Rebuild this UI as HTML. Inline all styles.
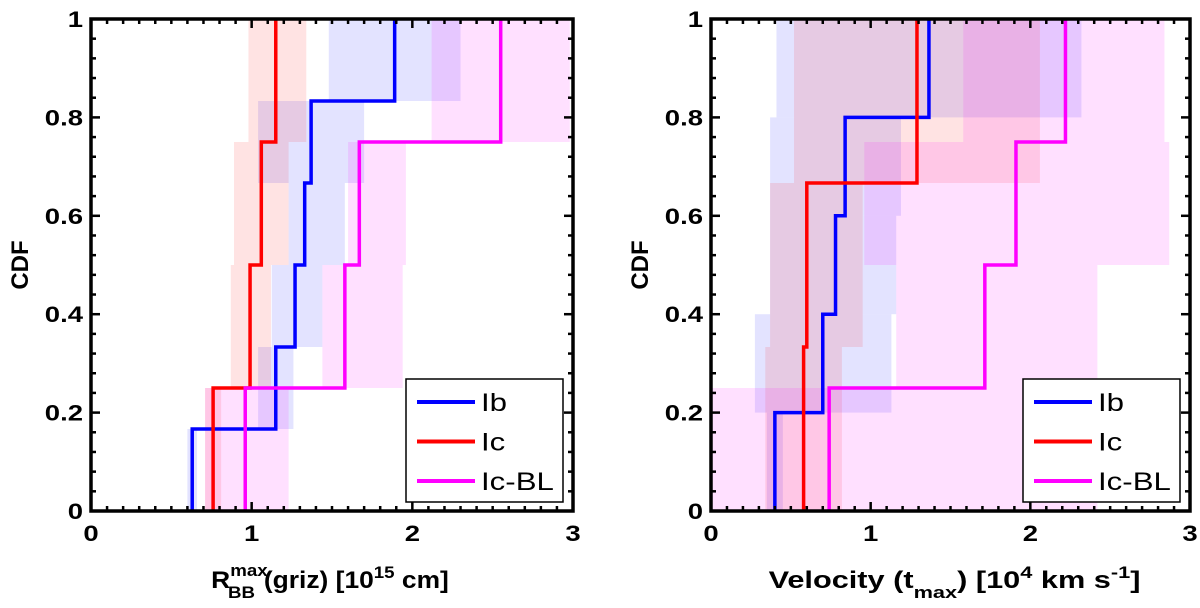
<!DOCTYPE html>
<html><head><meta charset="utf-8"><style>
body{margin:0;background:#fff;}
svg text{font-family:"Liberation Sans",Arial,sans-serif;}
</style></head><body>
<svg id="fig" width="1200" height="603" viewBox="0 0 1200 603" xmlns="http://www.w3.org/2000/svg"></svg>
<script>
// ---- Left panel data (R_BB max, 1e15 cm) ----
const leftIb = [0.63, 1.15, 1.27, 1.33, 1.37, 1.89];
const leftIbLo = [0.60, 1.04, 1.125, 1.23, 1.04, 1.48];
const leftIbHi = [0.66, 1.26, 1.44, 1.58, 1.70, 2.30];
const leftIc = [0.76, 0.99, 1.06, 1.15];
const leftIcLo = [0.71, 0.87, 0.89, 0.98];
const leftIcHi = [0.81, 1.12, 1.23, 1.34];
const leftBL = [0.96, 1.58, 1.67, 2.55];
const leftBLLo = [0.71, 1.44, 1.60, 2.12];
const leftBLHi = [1.23, 1.94, 1.96, 2.98];
// ---- Right panel data (velocity, 1e4 km/s) ----
const rightIb = [0.40, 0.70, 0.78, 0.84, 1.365];
const rightIbLo = [0.35, 0.275, 0.37, 0.37, 0.41];
const rightIbHi = [0.45, 1.13, 1.16, 1.19, 2.32];
const rightIc = [0.58, 0.60, 1.29];
const rightIcLo = [0.34, 0.37, 0.52];
const rightIcHi = [0.82, 0.95, 2.06];
const rightBL = [0.74, 1.715, 1.91, 2.22];
const rightBLLo = [0.0, 1.16, 0.96, 1.58];
const rightBLHi = [2.42, 2.42, 2.87, 2.84];
const xTicks = ["0","1","2","3"];
const yTicks = ["0","0.2","0.4","0.6","0.8","1"];

const NS = "http://www.w3.org/2000/svg";
const svg = document.getElementById("fig");
function mk(tag, attrs, parent){const e=document.createElementNS(NS,tag);for(const k in attrs)e.setAttribute(k,attrs[k]);(parent||svg).appendChild(e);return e;}
const SX = 1.25;
function txt(parent, x, y, attrs){
  return mk("text", Object.assign({x:0,y:0,transform:"translate("+x+","+y+") scale("+SX+",1)"}, attrs), parent);
}

const COL = {Ib:"#0000ff", Ic:"#ff0000", BL:"#ff00ff"};
const FILL = {Ib:"rgba(0,0,255,0.11)", Ic:"rgba(255,0,0,0.11)", BL:"rgba(255,0,255,0.12)"};

function panel(name, x0, x1, y0, y1, series, xlabelFn){
  const g = mk("g", {});
  
  
  const sx = v => x0 + (x1-x0)*v/3;
  const sy = v => y1 - (y1-y0)*v;
  series.forEach(s=>{
    const n = s.vals.length;
    s.vals.forEach((v,i)=>{
      const r = mk("rect",{x:sx(s.lo[i]),y:sy((i+1)/n),width:Math.max(0,sx(s.hi[i])-sx(s.lo[i])),height:sy(i/n)-sy((i+1)/n),fill:FILL[s.key]},g);
      
      
    });
  });
  series.forEach(s=>{
    const n = s.vals.length;
    let d = "";
    s.vals.forEach((v,i)=>{
      d += (i===0?"M":"L")+sx(v)+","+sy(i/n)+" L"+sx(v)+","+sy((i+1)/n)+" ";
    });
    const p = mk("path",{d:d,fill:"none",stroke:COL[s.key],"stroke-width":3.5},g);
    
    
  });
  for(let i=0;i<=30;i++){
    const x=sx(i/10), L=(i%10===0)?9:5;
    mk("line",{x1:x,y1:y1,x2:x,y2:y1-L,stroke:"#000","stroke-width":2.5},g);
    mk("line",{x1:x,y1:y0,x2:x,y2:y0+L,stroke:"#000","stroke-width":2.5},g);
  }
  for(let i=0;i<=25;i++){
    const y=sy(i*0.04), L=(i%5===0)?9:5;
    mk("line",{x1:x0,y1:y,x2:x0+L,y2:y,stroke:"#000","stroke-width":2.5},g);
    mk("line",{x1:x1,y1:y,x2:x1-L,y2:y,stroke:"#000","stroke-width":2.5},g);
  }
  const fr = mk("rect",{x:x0,y:y0,width:x1-x0,height:y1-y0,fill:"none",stroke:"#000","stroke-width":3.5},g);
  
  
  xTicks.forEach((t,i)=>{
    const tx = txt(g, sx(i), y1+30, {"text-anchor":"middle","font-size":22,"font-weight":"bold"});
    tx.textContent=t;
    
    
  });
  yTicks.forEach((t,i)=>{
    const tx = txt(g, x0-8, sy(i*0.2)+8, {"text-anchor":"end","font-size":22,"font-weight":"bold"});
    tx.textContent=t;
    
    
  });
  const yt = mk("text",{x:0,y:0,"text-anchor":"middle","font-size":24,"font-weight":"bold",transform:"translate("+(x0-63)+","+((y0+y1)/2)+") rotate(-90)"},g);
  yt.textContent="CDF";
  
  
  xlabelFn(g,(x0+x1)/2,y1+77);
  const lx = x1-167, ly = y1-132;
  const lg = mk("g",{},g);
  
  
  mk("rect",{x:lx,y:ly,width:157,height:123,fill:"#fff",stroke:"#000","stroke-width":1.5},lg);
  [["Ib","Ib"],["Ic","Ic"],["BL","Ic-BL"]].forEach((e,i)=>{
    const y = ly+23+i*39.5;
    mk("line",{x1:lx+11,y1:y,x2:lx+69,y2:y,stroke:COL[e[0]],"stroke-width":4},lg);
    const t = txt(lg, lx+75, y+9, {"font-size":25});
    t.textContent=e[1];
    
    
  });
}

panel("left-panel",91,573,19,511,[
  {key:"Ib",vals:leftIb,lo:leftIbLo,hi:leftIbHi},
  {key:"Ic",vals:leftIc,lo:leftIcLo,hi:leftIcHi},
  {key:"BL",vals:leftBL,lo:leftBLLo,hi:leftBLHi}],
  (g,cx,y)=>{
    const t = mk("text",{x:0,y:0,"text-anchor":"middle","font-size":24,"font-weight":"bold",transform:"translate("+(cx-2)+","+y+") scale(1.1,1)"},g);
    
    
    t.innerHTML='R<tspan font-size="17" dy="-12">max</tspan><tspan font-size="17" dx="-36" dy="22">BB</tspan><tspan dy="-10" dx="8">(griz) [10</tspan><tspan font-size="17" dy="-10">15</tspan><tspan dy="10"> cm]</tspan>';
  });
panel("right-panel",711,1190,19,511,[
  {key:"Ib",vals:rightIb,lo:rightIbLo,hi:rightIbHi},
  {key:"Ic",vals:rightIc,lo:rightIcLo,hi:rightIcHi},
  {key:"BL",vals:rightBL,lo:rightBLLo,hi:rightBLHi}],
  (g,cx,y)=>{
    const t = mk("text",{x:0,y:0,"text-anchor":"middle","font-size":24,"font-weight":"bold",transform:"translate("+(cx+4)+","+y+") scale(1.28,1)"},g);
    
    
    t.innerHTML='Velocity (t<tspan font-size="17" dy="10">max</tspan><tspan dy="-10">) [10</tspan><tspan font-size="17" dy="-10">4</tspan><tspan dy="10"> km s</tspan><tspan font-size="17" dy="-10">-1</tspan><tspan dy="10">]</tspan>';
  });
</script>
</body></html>
